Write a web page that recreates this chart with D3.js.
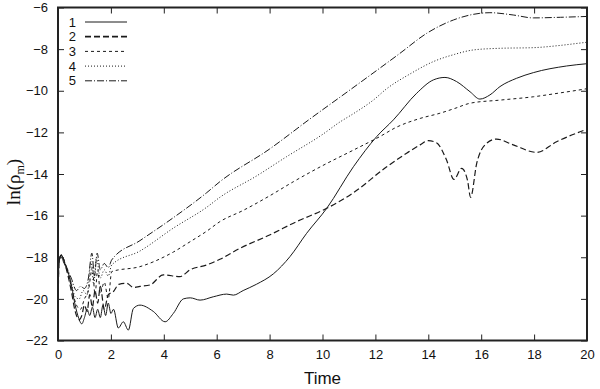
<!DOCTYPE html>
<html>
<head>
<meta charset="utf-8">
<script src="https://cdn.jsdelivr.net/npm/d3@7"></script>
<style>
  body { margin: 0; background: #fff; }
  svg { display: block; }
</style>
</head>
<body>
<div id="chart"></div>
<script>
// ln(rho_m) vs time for five runs

const seriesNames = ['1', '2', '3', '4', '5'];

const run1 = [[0,-22],[0.03,-18.3],[0.12,-17.9],[0.2,-18.2],[0.35,-18.6],[0.5,-19.3],[0.6,-20.0],[0.75,-20.8],[0.9,-21.2],[1.0,-20.9],[1.1,-20.5],[1.2,-20.8],[1.3,-20.4],[1.4,-20.9],[1.5,-20.5],[1.6,-20.9],[1.7,-20.3],[1.8,-20.8],[1.9,-20.2],[2.0,-20.7],[2.1,-20.5],[2.28,-21.4],[2.47,-21.1],[2.66,-21.5],[2.85,-20.46],[3.1,-20.3],[3.6,-20.6],[4.05,-21.1],[4.36,-20.7],[4.74,-20.0],[5.0,-19.95],[5.37,-20.06],[5.87,-19.9],[6.38,-19.77],[6.63,-19.82],[7.0,-19.6],[7.5,-19.3],[8.14,-18.8],[8.77,-17.97],[9.4,-16.85],[10.16,-15.65],[11.17,-13.65],[12.05,-12.2],[12.68,-11.4],[13.56,-10.12],[14.19,-9.48],[14.63,-9.36],[15.07,-9.56],[15.58,-10.05],[15.95,-10.4],[16.33,-10.2],[16.71,-9.8],[17.34,-9.4],[17.97,-9.13],[19.23,-8.81],[20,-8.7]];

const run2 = [[0,-22],[0.03,-18.3],[0.12,-17.9],[0.3,-18.5],[0.5,-19.6],[0.65,-20.6],[0.8,-21.0],[0.9,-20.8],[1.0,-20.3],[1.1,-20.6],[1.2,-19.8],[1.3,-20.4],[1.4,-19.6],[1.5,-20.2],[1.6,-19.4],[1.75,-20.5],[1.9,-19.8],[2.09,-19.66],[2.3,-19.3],[2.6,-19.25],[2.85,-19.45],[3.1,-19.4],[3.48,-19.33],[3.98,-18.85],[4.61,-18.93],[5.0,-18.6],[5.62,-18.37],[6.12,-18.1],[6.88,-17.57],[8.0,-16.93],[9.0,-16.3],[10.16,-15.65],[11.17,-14.9],[12.43,-13.65],[13.18,-13.0],[13.69,-12.6],[14.0,-12.4],[14.31,-12.5],[14.69,-13.33],[14.97,-14.26],[15.26,-13.73],[15.48,-14.29],[15.6,-15.12],[15.83,-13.49],[16.2,-12.53],[16.58,-12.32],[17.21,-12.6],[18.1,-12.96],[18.85,-12.45],[19.74,-11.97],[20,-11.85]];

const run3 = [[0,-22],[0.03,-18.3],[0.12,-17.9],[0.3,-18.4],[0.5,-19.4],[0.7,-20.3],[0.85,-20.5],[1.0,-20.0],[1.15,-19.6],[1.3,-18.5],[1.4,-19.8],[1.5,-18.6],[1.6,-19.7],[1.75,-19.2],[1.9,-20.0],[2.03,-18.69],[3.1,-18.45],[4.36,-17.75],[5.0,-17.25],[5.62,-16.75],[6.12,-16.29],[7.0,-15.75],[8.0,-15.05],[8.9,-14.37],[10.0,-13.6],[11.17,-12.85],[12.17,-12.2],[12.8,-11.75],[13.69,-11.33],[14.44,-11.08],[15.0,-10.85],[15.58,-10.6],[16.71,-10.45],[17.97,-10.29],[19.0,-10.1],[19.86,-9.93],[20,-9.9]];

const run4 = [[0,-22],[0.03,-18.3],[0.12,-17.9],[0.3,-18.5],[0.5,-19.2],[0.65,-19.9],[0.8,-20.0],[0.95,-19.6],[1.1,-19.8],[1.25,-18.2],[1.35,-19.3],[1.45,-18.0],[1.6,-19.0],[1.75,-18.6],[1.9,-18.9],[2.03,-18.37],[3.1,-17.7],[4.36,-16.6],[5.62,-15.6],[6.12,-15.12],[7.5,-14.1],[8.64,-13.17],[10.0,-12.1],[10.66,-11.5],[11.17,-11.1],[11.92,-10.45],[12.43,-9.9],[13.3,-9.2],[14.19,-8.6],[15.0,-8.25],[15.7,-8.04],[16.71,-7.96],[17.97,-7.93],[19.0,-7.82],[19.86,-7.69],[20,-7.67]];

const run5 = [[0,-22],[0.03,-18.3],[0.12,-17.9],[0.3,-18.4],[0.5,-19.0],[0.7,-19.6],[0.85,-19.4],[1.0,-19.5],[1.15,-19.0],[1.28,-17.8],[1.38,-18.9],[1.48,-17.8],[1.6,-18.6],[1.75,-18.3],[1.9,-18.5],[2.03,-18.13],[3.1,-17.2],[4.36,-16.1],[5.62,-14.9],[6.12,-14.37],[8.0,-12.8],[9.53,-11.35],[11.04,-9.96],[12.93,-8.2],[13.94,-7.24],[14.95,-6.6],[15.95,-6.28],[16.33,-6.25],[17.21,-6.36],[17.97,-6.5],[19.0,-6.47],[20,-6.43]];

const xTicks = [0, 2, 4, 6, 8, 10, 12, 14, 16, 18, 20];
const yTicks = [-22, -20, -18, -16, -14, -12, -10, -8, -6];

const width = 600, height = 389;
const margin = { top: 7.5, right: 13, bottom: 48.5, left: 58 };

const svg = d3.select('#chart').append('svg')
    .attr('width', width)
    .attr('height', height);

const x = d3.scaleLinear().domain([0, 20]).range([margin.left, width - margin.right]);
const y = d3.scaleLinear().domain([-22, -6]).range([height - margin.bottom, margin.top]);

// line styles for the five runs
const dashes = [null, '6,3', '3,3', '1,2', '7,2,1,2'];
const widths = [1, 1.2, 1, 1, 1];
const runs = [run1, run2, run3, run4, run5];

const line = d3.line()
    .x(d => x(d[0]))
    .y(d => y(d[1]))
    .curve(d3.curveMonotoneX);

const plot = svg.append('g');
runs.forEach((r, i) => {
    plot.append('path')
        .datum(r)
        .attr('fill', 'none')
        .attr('stroke', '#1a1a1a')
        .attr('stroke-width', widths[i])
        .attr('stroke-dasharray', dashes[i])
        .attr('d', line);
});

// axes: ticks point inward on all four sides
const font = '"Liberation Sans", Arial, sans-serif';
const tickLen = 6;

svg.append('g')
    .attr('transform', `translate(0,${y(-22)})`)
    .call(d3.axisBottom(x).tickValues(xTicks).tickSizeInner(-tickLen).tickSizeOuter(0).tickPadding(9))
    .call(g => g.select('.domain').remove())
    .call(g => g.selectAll('text').attr('font-family', font).attr('font-size', 13).attr('fill', '#111'));

svg.append('g')
    .attr('transform', `translate(0,${y(-6)})`)
    .call(d3.axisTop(x).tickValues(xTicks).tickSizeInner(-tickLen).tickSizeOuter(0).tickFormat(''))
    .call(g => g.select('.domain').remove());

svg.append('g')
    .attr('transform', `translate(${x(0)},0)`)
    .call(d3.axisLeft(y).tickValues(yTicks).tickSizeInner(-tickLen).tickSizeOuter(0).tickPadding(10))
    .call(g => g.select('.domain').remove())
    .call(g => g.selectAll('text').attr('font-family', font).attr('font-size', 13).attr('fill', '#111'));

svg.append('g')
    .attr('transform', `translate(${x(20)},0)`)
    .call(d3.axisRight(y).tickValues(yTicks).tickSizeInner(-tickLen).tickSizeOuter(0).tickFormat(''))
    .call(g => g.select('.domain').remove());

svg.selectAll('.tick line').attr('stroke', '#222');

// frame
svg.append('rect')
    .attr('x', x(0))
    .attr('y', y(-6))
    .attr('width', x(20) - x(0))
    .attr('height', y(-22) - y(-6))
    .attr('fill', 'none')
    .attr('stroke', '#222')
    .attr('stroke-width', 2);

// axis titles
svg.append('text')
    .attr('x', (x(0) + x(20)) / 2)
    .attr('y', 384)
    .attr('text-anchor', 'middle')
    .attr('font-family', font)
    .attr('font-size', 17)
    .attr('fill', '#111')
    .text('Time');

const ylab = svg.append('text')
    .attr('transform', `translate(20,${(y(-6) + y(-22)) / 2 + 8}) rotate(-90)`)
    .attr('text-anchor', 'middle')
    .attr('font-family', '"Liberation Serif", "Times New Roman", serif')
    .attr('font-size', 19)
    .attr('fill', '#111');
ylab.append('tspan').text('ln(ρ');
ylab.append('tspan').attr('font-size', 12).attr('dy', 4).text('m');
ylab.append('tspan').attr('dy', -4).text(')');

// legend
const legend = svg.append('g');
seriesNames.forEach((name, i) => {
    const ly = 22 + i * 14.7;
    legend.append('text')
        .attr('x', 76)
        .attr('y', ly + 4.5)
        .attr('text-anchor', 'end')
        .attr('font-family', font)
        .attr('font-size', 13)
        .attr('fill', '#111')
        .text(name);
    legend.append('line')
        .attr('x1', 85).attr('x2', 127)
        .attr('y1', ly).attr('y2', ly)
        .attr('stroke', '#1a1a1a')
        .attr('stroke-width', i === 1 ? 1.8 : widths[i])
        .attr('stroke-dasharray', dashes[i]);
});
</script>
</body>
</html>
